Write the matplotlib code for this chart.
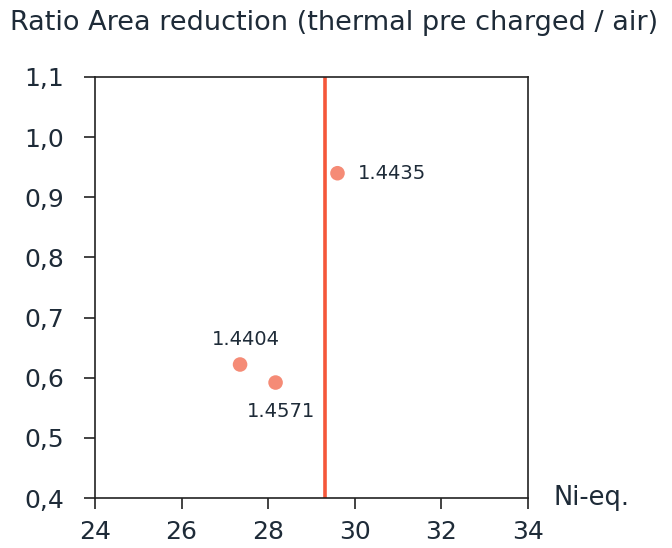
import matplotlib.pyplot as plt

plt.rcParams['font.family'] = ['DejaVu Sans']

# Ni-equivalent vs. ratio of area reduction for each steel grade
ni_eq = [27.35, 28.17, 29.6]
ratio = [0.622, 0.592, 0.940]
grades = ['1.4404', '1.4571', '1.4435']
label_offsets = [(4, 18), (4, -21), (15, 0)]
label_align = ['center', 'center', 'left']

threshold = 29.32

x_ticks = [24, 26, 28, 30, 32, 34]
y_ticks = [0.4, 0.5, 0.6, 0.7, 0.8, 0.9, 1.0, 1.1]
y_tick_labels = ['0,4', '0,5', '0,6', '0,7', '0,8', '0,9', '1,0', '1,1']

text_color = '#1e2b38'

fig = plt.figure(figsize=(6.72, 5.48), dpi=100)
ax = fig.add_axes([0.1414, 0.0912, 0.6443, 0.7683])

ax.axvline(threshold, color='#f5573a', linewidth=2.6, zorder=2)
ax.scatter(ni_eq, ratio, s=110, color='#f58b76', edgecolors='none', zorder=3)

for x, y, name, off, ha in zip(ni_eq, ratio, grades, label_offsets, label_align):
    ax.annotate(name, (x, y), xytext=off, textcoords='offset points',
                ha=ha, va='center', fontsize=14, color=text_color)

ax.set_xlim(24, 34)
ax.set_ylim(0.4, 1.1)
ax.set_xticks(x_ticks)
ax.set_yticks(y_ticks)
ax.set_yticklabels(y_tick_labels)
ax.tick_params(direction='out', length=8, width=1.2, labelsize=18,
               colors='#222222', labelcolor=text_color)
ax.tick_params(axis='y', pad=14)
ax.tick_params(axis='x', pad=8)
for spine in ax.spines.values():
    spine.set_color('#222222')
    spine.set_linewidth(1.2)

fig.text(0.015, 0.958, 'Ratio Area reduction (thermal pre charged / air)',
         fontsize=19.5, color=text_color, ha='left', va='center')
fig.text(0.823, 0.092, 'Ni-eq.', fontsize=18.5, color=text_color,
         ha='left', va='center')

fig.savefig('out.png', dpi=100)
